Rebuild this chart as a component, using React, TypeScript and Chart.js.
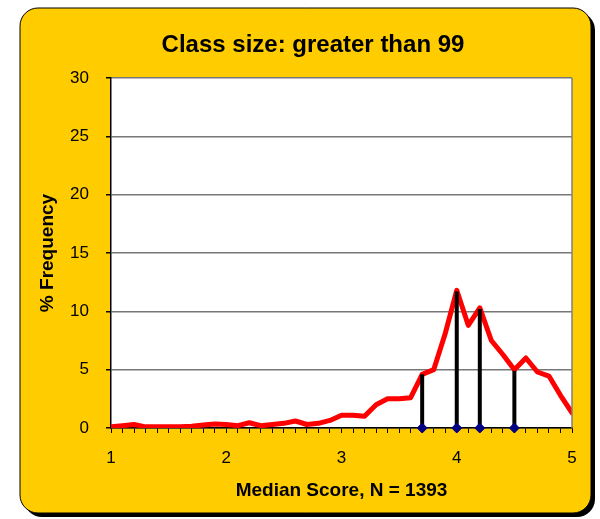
import React, { useEffect, useRef } from "react";
import { Chart, registerables } from "chart.js";

Chart.register(...registerables);

const TITLE = "Class size: greater than 99";
const X_TITLE = "Median Score, N = 1393";
const Y_TITLE = "% Frequency";

const scores = [
  1.0, 1.1, 1.2, 1.3, 1.4, 1.5, 1.6, 1.7, 1.8, 1.9,
  2.0, 2.1, 2.2, 2.3, 2.4, 2.5, 2.6, 2.7, 2.8, 2.9,
  3.0, 3.1, 3.2, 3.3, 3.4, 3.5, 3.6, 3.7, 3.8, 3.9,
  4.0, 4.1, 4.2, 4.3, 4.4, 4.5, 4.6, 4.7, 4.8, 4.9,
  5.0,
];
const frequency = [
  0.1, 0.2, 0.3, 0.1, 0.1, 0.1, 0.1, 0.15, 0.25, 0.35,
  0.3, 0.2, 0.45, 0.2, 0.3, 0.4, 0.6, 0.3, 0.4, 0.65,
  1.1, 1.1, 1.0, 2.0, 2.5, 2.5, 2.6, 4.6, 5.0, 8.1,
  11.8, 8.8, 10.3, 7.5, 6.3, 5.0, 6.0, 4.8, 4.45, 2.8,
  1.3,
];
const markerScores = [3.7, 4.0, 4.2, 4.5];
const markerHeights = [4.6, 11.7, 10.2, 4.9];

const FONT = "'Liberation Sans', Arial, sans-serif";

const backgroundPlugin = {
  id: "panelBackground",
  beforeDraw(chart: any) {
    const { ctx } = chart;
    const x = 20, y = 8, w = 571, h = 505, r = 18;
    const rr = (ox: number, oy: number) => {
      ctx.beginPath();
      ctx.moveTo(ox + r, oy);
      ctx.lineTo(ox + w - r, oy);
      ctx.arcTo(ox + w, oy, ox + w, oy + r, r);
      ctx.lineTo(ox + w, oy + h - r);
      ctx.arcTo(ox + w, oy + h, ox + w - r, oy + h, r);
      ctx.lineTo(ox + r, oy + h);
      ctx.arcTo(ox, oy + h, ox, oy + h - r, r);
      ctx.lineTo(ox, oy + r);
      ctx.arcTo(ox, oy, ox + r, oy, r);
      ctx.closePath();
    };
    ctx.save();
    ctx.fillStyle = "#ffffff";
    ctx.fillRect(0, 0, chart.width, chart.height);
    rr(x + 4, y + 4);
    ctx.fillStyle = "#000000";
    ctx.fill();
    rr(x, y);
    ctx.fillStyle = "#FFCC00";
    ctx.fill();
    ctx.lineWidth = 1;
    ctx.strokeStyle = "#000000";
    ctx.stroke();
    const a = chart.chartArea;
    ctx.fillStyle = "#ffffff";
    ctx.fillRect(a.left, a.top, a.right - a.left, a.bottom - a.top);
    ctx.restore();
  },
  afterDatasetsDraw(chart: any) {
    const { ctx } = chart;
    const a = chart.chartArea;
    ctx.save();
    ctx.strokeStyle = "#808080";
    ctx.lineWidth = 1.5;
    ctx.beginPath();
    ctx.moveTo(a.right, a.top);
    ctx.lineTo(a.right, a.bottom);
    ctx.stroke();
    ctx.restore();
  },
};

export default function App() {
  const ref = useRef<HTMLCanvasElement | null>(null);

  useEffect(() => {
    if (!ref.current) return;
    const stemSets = markerScores.map((s, i) => ({
      type: "line" as const,
      data: [
        { x: s, y: 0 },
        { x: s, y: markerHeights[i] },
      ],
      borderColor: "#000000",
      borderWidth: 4,
      pointRadius: 0,
      order: 1,
    }));
    const chart = new Chart(ref.current, {
      type: "line",
      data: {
        datasets: [
          {
            type: "scatter" as any,
            data: markerScores.map((s) => ({ x: s, y: 0 })),
            pointStyle: "rectRot",
            pointRadius: 5,
            backgroundColor: "#000080",
            borderColor: "#000080",
            borderWidth: 1,
            showLine: false,
            clip: false,
            order: 0,
          } as any,
          ...stemSets,
          {
            data: scores.map((s, i) => ({ x: s, y: frequency[i] })),
            borderColor: "#FF0000",
            borderWidth: 5,
            pointRadius: 0,
            tension: 0,
            borderCapStyle: "round",
            borderJoinStyle: "round",
            order: 2,
          },
        ],
      },
      options: {
        responsive: false,
        animation: false,
        layout: { padding: { left: 54, right: 28, top: 10, bottom: 14 } },
        plugins: {
          legend: { display: false },
          tooltip: { enabled: false },
          title: {
            display: true,
            text: TITLE,
            color: "#000000",
            font: { family: FONT, size: 24, weight: "bold" },
            padding: { top: 20.6, bottom: 18.6 },
          },
        },
        scales: {
          x: {
            type: "linear",
            min: 1,
            max: 5,
            afterFit(scale: any) {
              scale.height = 77;
            },
            ticks: {
              stepSize: 0.1,
              autoSkip: false,
              maxRotation: 0,
              minRotation: 0,
              padding: 15,
              color: "#000000",
              font: { family: FONT, size: 17 },
              callback: (v: any) => {
                const n = Number(v);
                return Math.abs(n - Math.round(n)) < 1e-6 ? String(Math.round(n)) : "";
              },
            },
            grid: {
              drawOnChartArea: false,
              drawTicks: true,
              tickLength: 5,
              tickColor: "#000000",
              tickWidth: 1,
            },
            border: { color: "#000000", width: 1.5 },
            title: {
              display: true,
              text: X_TITLE,
              color: "#000000",
              font: { family: FONT, size: 19, weight: "bold" },
              padding: { top: 0, bottom: 3 },
            },
          },
          y: {
            type: "linear",
            min: 0,
            max: 30,
            afterFit(scale: any) {
              scale.width = 57;
            },
            ticks: {
              stepSize: 5,
              padding: 17,
              color: "#000000",
              font: { family: FONT, size: 17 },
            },
            grid: {
              color: "#777777",
              lineWidth: 1.5,
              drawTicks: true,
              tickLength: 5,
              tickColor: "#000000",
            },
            border: { color: "#000000", width: 1.5 },
            title: {
              display: true,
              text: Y_TITLE,
              color: "#000000",
              font: { family: FONT, size: 19, weight: "bold" },
              padding: { top: -18, bottom: 0 },
            },
          },
        },
      },
      plugins: [backgroundPlugin],
    });
    return () => chart.destroy();
  }, []);

  return (
    <div style={{ position: "absolute", left: 0, top: 0, width: 600, height: 519 }}>
      <canvas ref={ref} width={600} height={519} style={{ display: "block" }} />
    </div>
  );
}
